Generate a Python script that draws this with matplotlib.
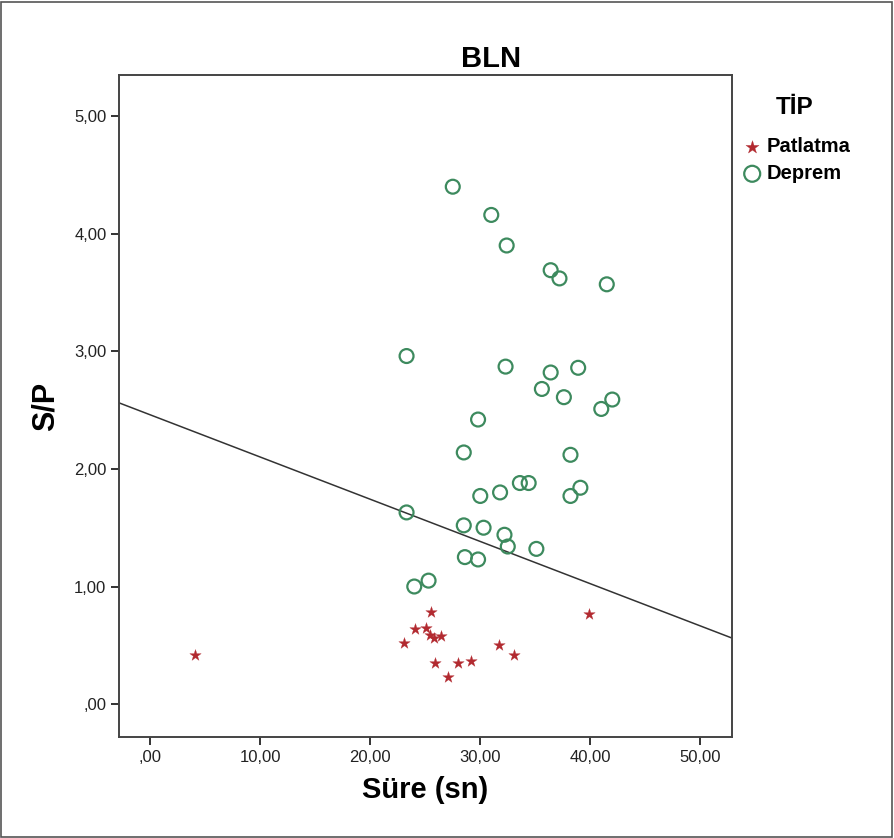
import numpy as np
import matplotlib.pyplot as plt
from matplotlib.ticker import FuncFormatter, MultipleLocator
from matplotlib.patches import Rectangle

plt.rcParams['font.family'] = ['Liberation Sans', 'DejaVu Sans']

# Patlatma (explosions)
pat_x = [4.1, 25.5, 24.1, 25.1, 25.4, 25.8, 26.4, 23.1, 31.7, 33.1, 25.9, 28.0, 29.2, 27.1, 39.9]
pat_y = [0.42, 0.78, 0.64, 0.65, 0.59, 0.56, 0.58, 0.52, 0.50, 0.42, 0.35, 0.35, 0.37, 0.23, 0.77]

# Deprem (earthquakes)
dep_x = [27.5, 31.0, 32.4, 36.4, 37.2, 41.5, 23.3, 32.3, 36.4, 38.9, 35.6, 37.6, 41.0,
         42.0, 29.8, 28.5, 38.2, 33.6, 34.4, 39.1, 38.2, 30.0, 31.8, 23.3, 28.5, 30.3,
         32.2, 32.5, 35.1, 28.6, 29.8, 24.0, 25.3]
dep_y = [4.40, 4.16, 3.90, 3.69, 3.62, 3.57, 2.96, 2.87, 2.82, 2.86, 2.68, 2.61, 2.51,
         2.59, 2.42, 2.14, 2.12, 1.88, 1.88, 1.84, 1.77, 1.77, 1.80, 1.63, 1.52, 1.50,
         1.44, 1.34, 1.32, 1.25, 1.23, 1.00, 1.05]

# fit line
fit_a = 2.46
fit_b = -0.0359

xlim = (-2.85, 52.9)
ylim = (-0.28, 5.35)

fig = plt.figure(figsize=(8.94, 8.38), dpi=100)
ax = fig.add_axes([0.133, 0.1205, 0.686, 0.790])

ax.scatter(pat_x, pat_y, marker='*', s=75, color='#b22a30', linewidths=0.2,
           label='Patlatma', zorder=3)
ax.scatter(dep_x, dep_y, marker='o', s=100, facecolors='none', edgecolors='#3d8a5e',
           linewidths=1.6, label='Deprem', zorder=3)

xx = np.array(xlim)
ax.plot(xx, fit_a + fit_b * xx, color='#333333', lw=1.1, zorder=2)

ax.set_xlim(xlim)
ax.set_ylim(ylim)
ax.xaxis.set_major_locator(MultipleLocator(10))
ax.yaxis.set_major_locator(MultipleLocator(1))

def fmt(v, pos):
    s = f"{v:.2f}".replace('.', ',')
    if s.startswith('0,'):
        s = s[1:]
    return s

ax.xaxis.set_major_formatter(FuncFormatter(fmt))
ax.yaxis.set_major_formatter(FuncFormatter(fmt))
ax.tick_params(direction='out', length=6, width=1.4, color='#333333',
               labelsize=12, labelcolor='#222222', pad=3)
for sp in ax.spines.values():
    sp.set_color('#444444')
    sp.set_linewidth(1.4)

fig.text(0.549, 0.929, 'BLN', fontsize=21, fontweight='bold', ha='center', va='center')
ax.set_xlabel('Süre (sn)', fontsize=21, fontweight='bold', labelpad=8)
ax.set_ylabel('S/P', fontsize=22, fontweight='bold', labelpad=10)

fig.text(0.889, 1 - 107 / 838, 'TİP', fontsize=17.5, fontweight='bold', ha='center', va='center')
leg = ax.legend(loc='upper left', bbox_to_anchor=(0.829, 1 - 137 / 838),
                bbox_transform=fig.transFigure, frameon=False,
                prop={'weight': 'bold', 'size': 14.5}, handletextpad=0.15,
                borderaxespad=0, borderpad=0, handlelength=1.1, labelspacing=0.4,
                markerscale=1.15)

fig.patches.append(Rectangle((0.001, 0.001), 0.997, 0.997, transform=fig.transFigure,
                             fill=False, edgecolor='#555555', lw=1.2))

fig.savefig('out.png', dpi=100)
